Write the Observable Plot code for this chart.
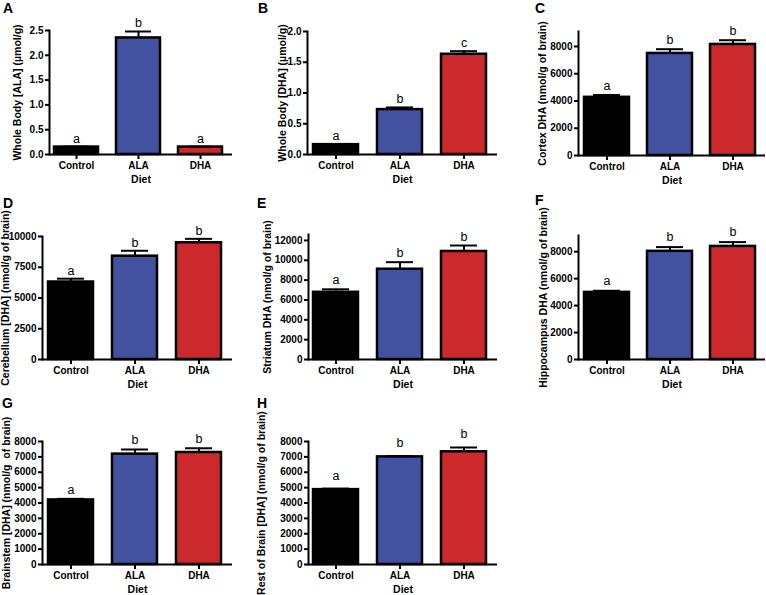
<!DOCTYPE html>
<html><head><meta charset="utf-8">
<script src="https://cdn.jsdelivr.net/npm/d3@7"></script>
<script src="https://cdn.jsdelivr.net/npm/@observablehq/plot@0.6"></script>
<style>
html,body{margin:0;padding:0;background:#fff;}
#root{position:relative;width:766px;height:595px;overflow:hidden;font-family:"Liberation Sans",Arial,sans-serif;}
.plt{position:absolute;}
.letter{position:absolute;font-size:14px;font-weight:bold;line-height:14px;color:#000;}
</style>
</head><body><div id="root"></div>
<script>
// ---- data ----
const categories = ["Control", "ALA", "DHA"];
const barColors = ["#000000", "#4252a1", "#cc292c"];
const panelLetters = ["A", "B", "C", "D", "E", "F", "G", "H"];
const yLabels = [
  "Whole Body [ALA] (\u00b5mol/g)",
  "Whole Body [DHA] (\u00b5mol/g)",
  "Cortex DHA (nmol/g of brain)",
  "Cerebellum [DHA] (nmol/g of brain)",
  "Striatum DHA (nmol/g of brain)",
  "Hippocampus DHA (nmol/g of brain)",
  "Brainstem [DHA] (nmol/g  of brain)",
  "Rest of Brain [DHA] (nmol/g of brain)"
];
const xLabel = "Diet";
const meansA = [0.15, 2.35, 0.15];   const errsA = [0.008, 0.13, 0.008];  const sigA = ["a", "b", "a"];
const meansB = [0.16, 0.73, 1.63];   const errsB = [0.01, 0.035, 0.05];  const sigB = ["a", "b", "c"];
const meansC = [4270, 7490, 8150];   const errsC = [170, 310, 310];      const sigC = ["a", "b", "b"];
const meansD = [6300, 8400, 9490];   const errsD = [270, 440, 320];      const sigD = ["a", "b", "b"];
const meansE = [6775, 9100, 10890];  const errsE = [300, 710, 600];      const sigE = ["a", "b", "b"];
const meansF = [4980, 8025, 8390];   const errsF = [120, 315, 320];      const sigF = ["a", "b", "b"];
const meansG = [4200, 7180, 7285];   const errsG = [70, 300, 275];       const sigG = ["a", "b", "b"];
const meansH = [4870, 7000, 7330];   const errsH = [65, 50, 280];        const sigH = ["a", "b", "b"];
const ticksA = [0, 0.5, 1.0, 1.5, 2.0, 2.5];
const ticksB = [0, 0.5, 1.0, 1.5, 2.0];
const ticksC = [0, 2000, 4000, 6000, 8000];
const ticksD = [0, 2500, 5000, 7500, 10000];
const ticksE = [0, 2000, 4000, 6000, 8000, 10000, 12000];
const ticksF = [0, 2000, 4000, 6000, 8000];
const ticksG = [0, 1000, 2000, 3000, 4000, 5000, 6000, 7000, 8000];
const ticksH = [0, 1000, 2000, 3000, 4000, 5000, 6000, 7000, 8000];
const yMaxes = [2.5, 2.0, 9100, 10000, 12600, 9200, 8000, 8000];

const allMeans = [meansA, meansB, meansC, meansD, meansE, meansF, meansG, meansH];
const allErrs = [errsA, errsB, errsC, errsD, errsE, errsF, errsG, errsH];
const allSig = [sigA, sigB, sigC, sigD, sigE, sigF, sigG, sigH];
const allTicks = [ticksA, ticksB, ticksC, ticksD, ticksE, ticksF, ticksG, ticksH];

// ---- layout (positions only) ----
const layout = [
  {left: 0,   top: 0,   w: 255, h: 190, ml: 49, mr: 23, mt: 30, mb: 36, lo: 32, gap: 4, lx: 3,   ly: 1},
  {left: 255, top: 0,   w: 255, h: 190, ml: 52, mr: 13, mt: 31, mb: 36, lo: 25, gap: 4, lx: 258, ly: 1},
  {left: 510, top: 0,   w: 256, h: 190, ml: 68, mr: 1,  mt: 31, mb: 35, lo: 36, gap: 5, lx: 535, ly: 1},
  {left: 0,   top: 190, w: 255, h: 200, ml: 42, mr: 23, mt: 46, mb: 31, lo: 37, gap: 4, lx: 3,   ly: 196},
  {left: 255, top: 190, w: 255, h: 200, ml: 53, mr: 13, mt: 44, mb: 31, lo: 41, gap: 5, lx: 257, ly: 196},
  {left: 510, top: 190, w: 256, h: 200, ml: 68, mr: 1,  mt: 45, mb: 31, lo: 35, gap: 6, lx: 535, ly: 193},
  {left: 0,   top: 395, w: 255, h: 200, ml: 42, mr: 23, mt: 46, mb: 31, lo: 36, gap: 5, lx: 2,   ly: 396},
  {left: 255, top: 395, w: 255, h: 200, ml: 53, mr: 13, mt: 46, mb: 31, lo: 47, gap: 9, lx: 257, ly: 396}
];

const root = document.getElementById("root");
layout.forEach((L, i) => {
  const data = categories.map((c, j) => ({cat: c, mean: allMeans[i][j], err: allErrs[i][j], sig: allSig[i][j]}));
  const top = d => d.mean + d.err;
  const fmt = i < 2 ? ".1f" : "d";
  const plot = Plot.plot({
    width: L.w, height: L.h,
    marginLeft: L.ml, marginRight: L.mr, marginTop: L.mt, marginBottom: L.mb,
    style: {fontFamily: '"Liberation Sans", Arial, sans-serif', fontSize: "10px", fontWeight: "bold", background: "transparent", overflow: "visible", color: "black"},
    x: {domain: categories, paddingInner: 0.29, paddingOuter: 0.12, align: 0.35, axis: null},
    y: {domain: [0, yMaxes[i]], axis: null},
    color: {domain: categories, range: barColors},
    marks: [
      Plot.barY(data, {x: "cat", y: "mean", fill: "cat", stroke: "black", strokeWidth: 2.5}),
      Plot.ruleX(data, {x: "cat", y1: "mean", y2: top, stroke: "black", strokeWidth: 2}),
      Plot.tickY(data, {x: "cat", y: top, stroke: "black", strokeWidth: 2, insetLeft: 9, insetRight: 9}),
      Plot.text(data, {x: "cat", y: top, text: "sig", dy: -L.gap, lineAnchor: "bottom", fontSize: 12.5, fontWeight: "normal", fill: "black"}),
      Plot.axisY({ticks: allTicks[i], tickFormat: fmt, tickSize: 4, tickPadding: 2, strokeWidth: 2, label: null, fill: "black", fontSize: 10}),
      Plot.axisX({tickSize: 5, tickPadding: 2, strokeWidth: 2, label: null, fill: "black", fontSize: 10}),
      Plot.ruleY([0], {stroke: "black", strokeWidth: 2}),
      Plot.frame({anchor: "left", stroke: "black", strokeWidth: 2}),
      Plot.text([xLabel], {frameAnchor: "bottom", dy: 25, lineAnchor: "middle", fontSize: 10.5, fill: "black"}),
      Plot.text([yLabels[i]], {frameAnchor: "left", rotate: -90, dx: -L.lo, lineAnchor: "middle", textAnchor: "middle", fontSize: 10.5, fill: "black"})
    ]
  });
  plot.classList.add("plt");
  plot.style.left = L.left + "px";
  plot.style.top = L.top + "px";
  root.appendChild(plot);
  const lab = document.createElement("div");
  lab.className = "letter";
  lab.textContent = panelLetters[i];
  lab.style.left = L.lx + "px";
  lab.style.top = L.ly + "px";
  root.appendChild(lab);
});
</script>
</body></html>
